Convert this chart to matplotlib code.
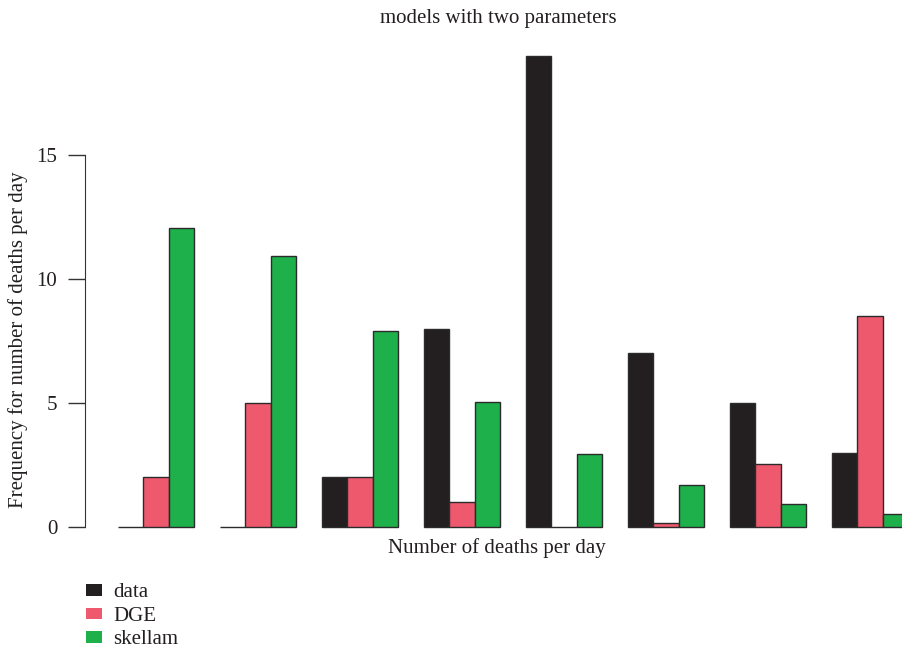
import numpy as np
import matplotlib.pyplot as plt
from matplotlib.patches import Patch

plt.rcParams['font.family'] = ['Liberation Serif', 'DejaVu Serif']

# observed vs fitted frequencies, one group per death count
series = ["data", "DGE", "skellam"]
data = [0, 0, 2, 8, 19, 7, 5, 3]
dge = [2, 5, 2, 1, 0, 0.15, 2.55, 8.5]
skellam = [12.05, 10.95, 7.9, 5.05, 2.95, 1.7, 0.95, 0.52]
colors = ["#231f20", "#ef596e", "#1db04b"]

fig = plt.figure(figsize=(9.02, 6.5), dpi=100)
ax = fig.add_axes([85 / 902, 113 / 650, 1 - 85 / 902, 497 / 650])

# barplot(beside=TRUE) layout: 3 bars then one gap per group
n = len(data)
group_left = 1 + 4 * np.arange(n)
for j, (vals, col, lab) in enumerate(zip([data, dge, skellam], colors, series)):
    ax.bar(group_left + j, vals, width=1, align="edge", color=col,
           edgecolor="#2b2b2b", linewidth=1.0, label=lab)

ax.set_xlim(-0.29, 31.75)
ax.set_ylim(-0.4, 19.64)

for s in ["top", "right", "bottom"]:
    ax.spines[s].set_visible(False)
ax.spines["left"].set_bounds(0, 15)
ax.spines["left"].set_color("#333333")
ax.set_yticks([0, 5, 10, 15])
ax.tick_params(axis="y", length=12, width=1, color="#333333", labelsize=15,
               labelcolor="#231f20", pad=8)
ax.set_xticks([])

fig.text(498 / 902, 1 - 18 / 650, "models with two parameters", ha="center",
         va="center", fontsize=15, color="#231f20")
fig.text(497 / 902, 1 - 548 / 650, "Number of deaths per day", ha="center",
         va="center", fontsize=15, color="#231f20")
fig.text(18 / 902, 1 - 340 / 650, "Frequency for number of deaths per day",
         ha="center", va="center", rotation=90, fontsize=15, color="#231f20")

handles = [Patch(facecolor=c, edgecolor="none") for c in colors]
fig.legend(handles, series, loc="upper left",
           bbox_to_anchor=(78 / 902, 1 - 575 / 650), frameon=False,
           fontsize=15, handlelength=0.75, handleheight=0.45,
           handletextpad=0.55, labelspacing=0.22, borderaxespad=0,
           labelcolor="#231f20")

fig.savefig("out.png", dpi=100)
